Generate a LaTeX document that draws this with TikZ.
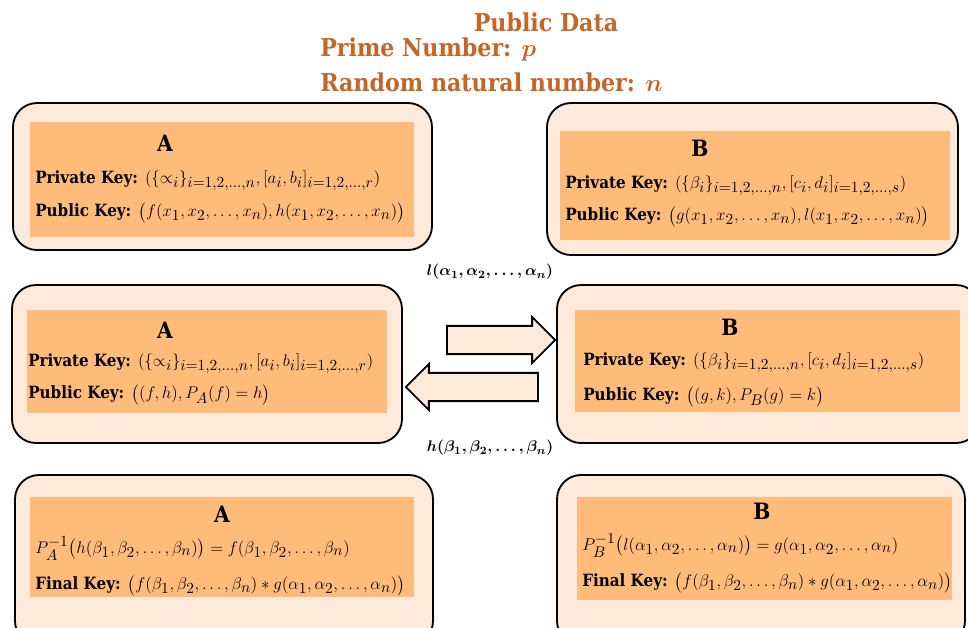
\documentclass[tikz,border=0pt]{standalone}
\usepackage{amsmath}
\usepackage{amssymb}
\usepackage{fontspec}
\setmainfont{DejaVu Serif Condensed}
\DeclareMathSizes{12}{12}{10.5}{8}
\usepackage{tikz}
\usetikzlibrary{shapes,fit}

\definecolor{pubcolor}{RGB}{196,102,40}
\definecolor{boxfill}{RGB}{253,234,218}
\definecolor{panelfill}{RGB}{255,187,122}

\begin{document}
\begin{tikzpicture}
	[
		x = 0.025cm, y = -0.025cm,
		roundbox/.style = {draw, line width=1.3pt, rounded corners=0.6cm, fill=boxfill, inner sep=0},
		keypanel/.style = {fill=panelfill, inner sep=0},
		party/.style = {font=\bfseries\fontsize{16}{18}\selectfont},
		keyline/.style = {anchor=west, inner sep=0, text depth=2pt, font=\bfseries\fontsize{12}{14}\selectfont},
		pubtext/.style = {text=pubcolor, inner sep=0, font=\bfseries\fontsize{17.5}{20}\selectfont},
		msg/.style = {inner sep=0, font=\fontsize{11}{13}\selectfont},
		bigarrow/.style = {single arrow, draw, line width=1.3pt, fill=boxfill, inner sep=0,
			text height=0.66cm, text depth=0pt, single arrow head extend=0.22cm},
	]

  \useasboundingbox (0,0) rectangle (968,627);
  \clip (0,0) rectangle (968,627);

  \node[pubtext] (pubdata) at (546,22) {Public Data};
  \node[pubtext, anchor=west] (prime) at (320,50) {Prime Number: $\boldsymbol{p}$};
  \node[pubtext, anchor=west] (randnum) at (320,82) {Random natural number: $\boldsymbol{n}$};

  % first row
  \node[roundbox, fit={(13,103) (432,250)}] (rowAa) {};
  \node[keypanel, fit={(30,122) (414,237)}] (panelAa) {};
  \node[party] (Aa) at (165,143) {A};
  \node[keyline] (privAa) at (35,178) {Private Key: $(\{\propto_i\}_{i=1,2,\dots,n},[a_i,b_i]_{i=1,2,\dots,r})$};
  \node[keyline] (pubAa) at (35,211) {Public Key: $\bigl(f(x_1,x_2,\dots,x_n),h(x_1,x_2,\dots,x_n)\bigr)$};

  \node[roundbox, fit={(547,103) (958,255)}] (rowBa) {};
  \node[keypanel, fit={(560,131) (950,240)}] (panelBa) {};
  \node[party] (Ba) at (700,148) {B};
  \node[keyline] (privBa) at (565,183) {Private Key: $(\{\beta_i\}_{i=1,2,\dots,n},[c_i,d_i]_{i=1,2,\dots,s})$};
  \node[keyline] (pubBa) at (565,215) {Public Key: $\bigl(g(x_1,x_2,\dots,x_n),l(x_1,x_2,\dots,x_n)\bigr)$};

  % second row
  \node[roundbox, fit={(12,285) (402,443)}] (rowAb) {};
  \node[keypanel, fit={(27,310) (387,413)}] (panelAb) {};
  \node[party] (Ab) at (165,330) {A};
  \node[keyline] (privAb) at (28,361) {Private Key: $(\{\propto_i\}_{i=1,2,\dots,n},[a_i,b_i]_{i=1,2,\dots,r})$};
  \node[keyline] (pubAb) at (28,393) {Public Key: $\bigl((f,h),P_A(f)=h\bigr)$};

  \node[roundbox, fit={(557,285) (980,443)}] (rowBb) {};
  \node[keypanel, fit={(575,310) (960,412)}] (panelBb) {};
  \node[party] (Bb) at (730,327) {B};
  \node[keyline] (privBb) at (583,360) {Private Key: $(\{\beta_i\}_{i=1,2,\dots,n},[c_i,d_i]_{i=1,2,\dots,s})$};
  \node[keyline] (pubBb) at (583,395) {Public Key: $\bigl((g,k),P_B(g)=k\bigr)$};

  \node[bigarrow, minimum height=2.7cm] (sendl) at (494,340) {};
  \node[bigarrow, minimum height=3.3cm, shape border rotate=180] (sendh) at (479,387) {};
  \node[msg] (lmsg) at (490,272) {$\boldsymbol{l(\alpha_1,\alpha_2,\dots,\alpha_n)}$};
  \node[msg] (hmsg) at (490,448) {$\boldsymbol{h(\beta_1,\beta_2,\dots,\beta_n)}$};

  % third row
  \node[roundbox, fit={(15,475) (433,645)}] (rowAc) {};
  \node[keypanel, fit={(30,497) (414,597)}] (panelAc) {};
  \node[party] (Ac) at (222,514) {A};
  \node[keyline] (invAc) at (35,546) {$P_A^{-1}\bigl(h(\beta_1,\beta_2,\dots,\beta_n)\bigr)=f(\beta_1,\beta_2,\dots,\beta_n)$};
  \node[keyline] (finAc) at (35,584) {Final Key: $\bigl(f(\beta_1,\beta_2,\dots,\beta_n)\ast g(\alpha_1,\alpha_2,\dots,\alpha_n)\bigr)$};

  \node[roundbox, fit={(557,475) (965,645)}] (rowBc) {};
  \node[keypanel, fit={(577,497) (952,600)}] (panelBc) {};
  \node[party] (Bc) at (762,511) {B};
  \node[keyline] (invBc) at (582,543) {$P_B^{-1}\bigl(l(\alpha_1,\alpha_2,\dots,\alpha_n)\bigr)=g(\alpha_1,\alpha_2,\dots,\alpha_n)$};
  \node[keyline] (finBc) at (582,581) {Final Key: $\bigl(f(\beta_1,\beta_2,\dots,\beta_n)\ast g(\alpha_1,\alpha_2,\dots,\alpha_n)\bigr)$};

\end{tikzpicture}
\end{document}
